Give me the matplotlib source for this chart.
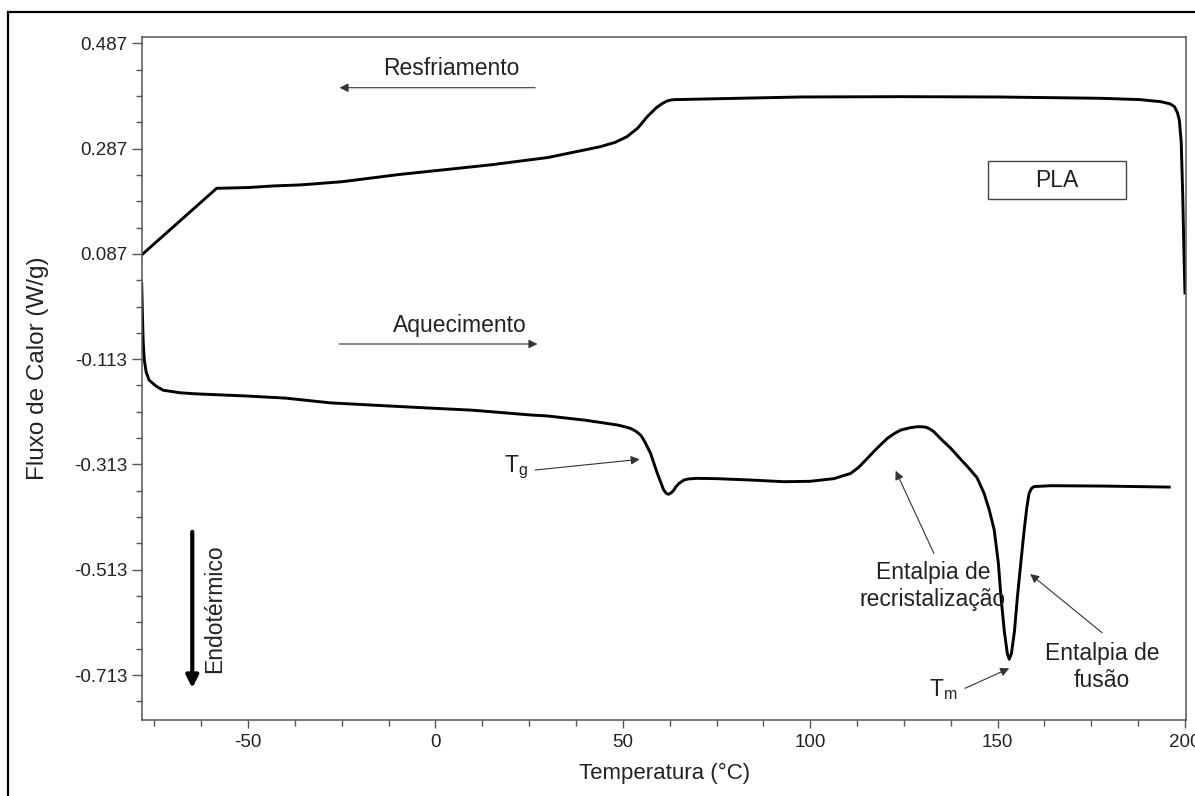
import matplotlib
matplotlib.use("Agg")
import matplotlib.pyplot as plt
from matplotlib.patches import Rectangle
from matplotlib.ticker import MultipleLocator, FixedLocator

plt.rcParams['font.family'] = ['Liberation Sans', 'DejaVu Sans']
plt.rcParams['mathtext.fontset'] = 'custom'
plt.rcParams['mathtext.rm'] = 'Liberation Sans'
plt.rcParams['mathtext.it'] = 'Liberation Sans'
plt.rcParams['axes.unicode_minus'] = False

# DSC of PLA: cooling run (upper trace)
cool_temp = [-78.4, -58.4, -50.0, -43.3, -36.0, -25.0, -9.4, 0.0, 14.6, 30.0,
             44.0, 48.0, 51.1, 54.0, 56.5, 59.0, 60.5, 61.8, 63.0, 64.0, 70.7, 97.5,
             124.2, 150.0, 177.6, 188.0, 193.6, 196.0, 197.2, 198.0, 198.5,
             199.0, 199.4, 199.7, 200.0]
cool_flow = [0.085, 0.2115, 0.213, 0.216, 0.218, 0.224, 0.238, 0.245, 0.256, 0.270,
             0.2906, 0.299, 0.3096, 0.326, 0.3476, 0.365, 0.3725, 0.3774, 0.3795, 0.380, 0.381, 0.385,
             0.3856, 0.385, 0.3825, 0.380, 0.376, 0.372, 0.3666, 0.355, 0.341,
             0.30, 0.20, 0.10, 0.0127]

# DSC of PLA: heating run (lower trace)
heat_temp = [-78.4, -78.2, -78.0, -77.7, -77.2, -76.4, -74.6, -72.7, -68.0, -63.7,
             -50.4, -40.0, -28.1, -15.0, -1.4, 10.0, 25.3, 30.0, 40.0, 48.5,
             50.0, 52.0, 53.5, 54.7, 55.3, 56.0, 57.4, 59.2, 60.9, 61.6, 62.2, 62.9, 63.6,
             64.2, 65.0, 66.3, 67.5, 69.8, 75.0, 84.1, 93.0, 100.0, 106.3, 110.8, 113.0,
             115.3, 118.0, 120.6, 122.5, 124.2, 126.5, 128.6, 130.0, 131.0, 132.0, 133.0,
             135.0, 137.5, 140.0, 142.0, 144.5,
             146.4, 147.8, 149.1, 150.2, 150.9, 151.8, 152.6, 153.1, 153.7, 154.5,
             155.3, 156.2, 157.1, 157.8, 158.4, 159.1, 159.8, 164.2, 177.6, 195.8]
heat_flow = [0.03, -0.03, -0.08, -0.115, -0.138, -0.153, -0.164, -0.172, -0.177, -0.179,
             -0.183, -0.187, -0.196, -0.201, -0.206, -0.210, -0.219, -0.221, -0.229, -0.238,
             -0.2405, -0.2444, -0.250, -0.257, -0.263, -0.272, -0.292, -0.330, -0.3616, -0.368, -0.3697, -0.367, -0.3616,
             -0.355, -0.349, -0.3426, -0.3405, -0.3394, -0.340, -0.3426, -0.3458, -0.345, -0.340, -0.330, -0.318,
             -0.301, -0.281, -0.2634, -0.254, -0.2476, -0.2435, -0.2413, -0.2415, -0.2425, -0.246, -0.2508,
             -0.2655, -0.2823, -0.302, -0.3173, -0.338,
             -0.3679, -0.40, -0.4375, -0.50, -0.5643, -0.63, -0.672, -0.683, -0.672, -0.63,
             -0.564, -0.50, -0.4375, -0.395, -0.3679, -0.358, -0.355, -0.3534, -0.354, -0.356]

y_ticks = [0.487, 0.287, 0.087, -0.113, -0.313, -0.513, -0.713]
y_tick_labels = ['0.487', '0.287', '0.087', '-0.113', '-0.313', '-0.513', '-0.713']
x_ticks = [-50, 0, 50, 100, 150, 200]

W, H = 1195, 796
fig = plt.figure(figsize=(W / 100, H / 100), dpi=100)
fig.patch.set_facecolor('white')

# outer frame
fig.patches.append(Rectangle((8 / W, -0.2), 1.5, 1.2 - 12 / H,
                             transform=fig.transFigure, fill=False,
                             edgecolor='black', lw=1.6, zorder=0))

ax = fig.add_axes([141.7 / W, 1 - 720.3 / H, (1185.7 - 141.7) / W, (720.3 - 36.7) / H])
ax.set_xlim(-78.4, 200.2)
ax.set_ylim(-0.799, 0.4995)

ax.plot(cool_temp, cool_flow, color='black', lw=2.1, solid_joinstyle='round')
ax.plot(heat_temp, heat_flow, color='black', lw=2.1, solid_joinstyle='round')

spine_col = '#555555'
for s in ax.spines.values():
    s.set_color(spine_col)
    s.set_linewidth(1.1)

ax.yaxis.set_major_locator(FixedLocator(y_ticks))
ax.set_yticklabels(y_tick_labels)
ax.yaxis.set_minor_locator(FixedLocator([v + d for v in y_ticks for d in (-0.15, -0.1, -0.05)
                                         if -0.799 < v + d < 0.4995]))
ax.xaxis.set_major_locator(FixedLocator(x_ticks))
ax.xaxis.set_minor_locator(MultipleLocator(12.5))

ax.tick_params(axis='y', which='major', direction='out', length=7, width=1.0,
               color=spine_col, labelsize=13.5, pad=3.5, labelcolor='#222222')
ax.tick_params(axis='y', which='minor', direction='out', length=4, width=1.0, color=spine_col)
ax.tick_params(axis='x', which='major', direction='out', length=6, width=1.0,
               color=spine_col, labelsize=13.5, pad=4, labelcolor='#222222')
ax.tick_params(axis='x', which='minor', direction='out', length=4, width=1.0, color=spine_col)

fig.text(665 / W, 1 - 773 / H, 'Temperatura (°C)', ha='center', va='center',
         fontsize=16, color='#222222')
fig.text(38 / W, 1 - 368 / H, 'Fluxo de Calor (W/g)', ha='center', va='center',
         rotation=90, fontsize=17.5, color='#222222')

txt = dict(fontsize=16.5, color='#222222')
thin = dict(arrowstyle='-|>', color='#333333', lw=0.8, mutation_scale=13,
            shrinkA=0, shrinkB=0)

# direction of the runs
ax.text(4.1, 0.4395, 'Resfriamento', ha='center', va='center', **txt)
ax.annotate('', xy=(-25.6, 0.4026), xytext=(26.6, 0.4026), arrowprops=thin)
ax.text(6.6, -0.050, 'Aquecimento', ha='center', va='center', **txt)
ax.annotate('', xy=(27.2, -0.0842), xytext=(-25.7, -0.0842), arrowprops=thin)

# sample label
ax.add_patch(Rectangle((147.4, 0.1906), 36.9, 0.0734, fill=False,
                       edgecolor='#444444', lw=1.0))
ax.text(165.9, 0.227, 'PLA', ha='center', va='center', **txt)

# transitions
ax.text(21.6, -0.318, r'$\mathregular{T_g}$', ha='center', va='center', **txt)
ax.annotate('', xy=(54.5, -0.3033), xytext=(26.6, -0.3236), arrowprops=thin)

ax.text(132.7, -0.544, 'Entalpia de\nrecristalização', ha='center', va='center',
        linespacing=1.25, **txt)
ax.annotate('', xy=(122.8, -0.325), xytext=(133.0, -0.4819), arrowprops=thin)

ax.text(135.6, -0.741, r'$\mathregular{T_m}$', ha='center', va='center', **txt)
ax.annotate('', xy=(153.1, -0.7003), xytext=(141.3, -0.7383), arrowprops=thin)

ax.text(177.8, -0.6973, 'Entalpia de\nfusão', ha='center', va='center',
        linespacing=1.25, **txt)
ax.annotate('', xy=(158.7, -0.5212), xytext=(177.9, -0.6327), arrowprops=thin)

# endothermic direction
ax.annotate('', xy=(-64.9, -0.7378), xytext=(-64.9, -0.441),
            arrowprops=dict(arrowstyle='-|>', color='black', lw=3.0,
                            mutation_scale=18, shrinkA=0, shrinkB=0))
ax.text(-59.0, -0.5877, 'Endotérmico', rotation=90, ha='center', va='center', **txt)

fig.savefig('out.png', dpi=100, facecolor='white')
